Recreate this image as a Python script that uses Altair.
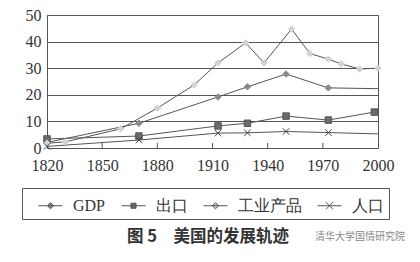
import altair as alt
import pandas as pd

series_names = ["GDP", "出口", "工业产品", "人口"]

gdp_years = [1820, 1870, 1913, 1929, 1950, 1973, 2000]
gdp_vals = [2.1, 9.3, 19.2, 23.0, 27.8, 22.6, 22.3]
gdp_mark = [True, True, True, True, True, True, False]

exp_years = [1820, 1870, 1913, 1929, 1950, 1973, 1998]
exp_vals = [3.4, 4.5, 8.3, 9.3, 12.0, 10.5, 13.5]
exp_mark = [True, True, True, True, True, True, True]

ind_years = [1820, 1830, 1860, 1880, 1900, 1913, 1928, 1938, 1953, 1963, 1973, 1980, 1990, 2000]
ind_vals = [1.8, 2.3, 7.2, 15.0, 23.7, 32.0, 39.5, 32.0, 44.7, 35.5, 33.4, 31.6, 29.7, 30.0]
ind_mark = [True] * 14

pop_years = [1820, 1870, 1913, 1929, 1950, 1973, 2000]
pop_vals = [0.6, 3.0, 5.6, 5.7, 6.2, 5.8, 5.3]
pop_mark = [True, True, True, True, True, True, False]

x_ticks = [1820, 1850, 1880, 1910, 1940, 1970, 2000]
inner_ticks = [1850, 1880, 1910, 1940, 1970]
y_ticks = [0, 10, 20, 30, 40, 50]

caption = "图 5\u3000美国的发展轨迹"
watermark = "清华大学国情研究院"

rows = []
for name, ys_, vs, ms in [
    ("GDP", gdp_years, gdp_vals, gdp_mark),
    ("出口", exp_years, exp_vals, exp_mark),
    ("工业产品", ind_years, ind_vals, ind_mark),
    ("人口", pop_years, pop_vals, pop_mark),
]:
    for y, v, m in zip(ys_, vs, ms):
        rows.append({"year": y, "value": v, "series": name, "marker": m})
df = pd.DataFrame(rows)

W, H = 331, 133

xs = alt.X("year:Q", scale=alt.Scale(domain=[1820, 2000], nice=False, zero=False),
           axis=alt.Axis(values=x_ticks, tickCount=20, format="d", title=None, ticks=False,
                         grid=False, domain=False, labelFont="Liberation Serif",
                         labelFontSize=16, labelColor="#333", labelPadding=9,
                         labelFlush=False, labelOverlap=False))
ys = alt.Y("value:Q", scale=alt.Scale(domain=[0, 50], nice=False),
           axis=alt.Axis(values=y_ticks, tickCount=20, title=None, ticks=False, domain=False,
                         grid=True, gridColor="#555", gridWidth=1,
                         labelFont="Liberation Serif", labelFontSize=16,
                         labelColor="#333", labelPadding=6, labelFlush=False,
                         labelOverlap=False))

lines = alt.Chart(df).mark_line(color="#555", strokeWidth=1).encode(
    x=xs, y=ys, detail="series:N"
)

xpath = "M-1,-1L1,1M-1,1L1,-1"
points = alt.Chart(df).transform_filter("datum.marker").mark_point(
    filled=True, size=42, strokeWidth=1, opacity=1
).encode(
    x=xs, y=ys,
    shape=alt.Shape("series:N", scale=alt.Scale(domain=series_names,
                    range=["diamond", "square", "diamond", xpath]), legend=None),
    fill=alt.Fill("series:N", scale=alt.Scale(domain=series_names,
                  range=["#8a8a8a", "#6c6c6c", "#d2d2d2", "transparent"]), legend=None),
    stroke=alt.Stroke("series:N", scale=alt.Scale(domain=series_names,
                      range=["#8a8a8a", "#555555", "#d2d2d2", "#444444"]), legend=None),
)

leg_paths = [
    "M-1,0L1,0M0,-0.26L0.26,0L0,0.26L-0.26,0Z",
    "M-1,0L1,0M-0.21,-0.21L0.21,-0.21L0.21,0.21L-0.21,0.21Z",
    "M-1,0L1,0M0,-0.26L0.26,0L0,0.26L-0.26,0Z",
    "M-1,0L1,0M-0.3,-0.3L0.3,0.3M-0.3,0.3L0.3,-0.3",
]
leg = alt.Legend(
    title=None, orient="none", legendX=-25, legendY=173,
    direction="horizontal", columns=4,
    strokeColor="#555", padding=5, columnPadding=4,
    labelFont="Liberation Serif", labelFontSize=16, labelColor="#333",
    labelExpr="datum.label == '人口' ? '人口\u2003' : datum.label",
    symbolOffset=11, labelOffset=10, symbolSize=576, symbolStrokeWidth=1,
    symbolOpacity=1, cornerRadius=0)
legend_layer = alt.Chart(df).transform_filter("false").mark_point(
    filled=True, strokeWidth=1, opacity=1
).encode(
    x=xs, y=ys,
    shape=alt.Shape("series:N", scale=alt.Scale(domain=series_names, range=leg_paths),
                    legend=leg),
    fill=alt.Fill("series:N", scale=alt.Scale(domain=series_names,
                  range=["#8a8a8a", "#6c6c6c", "#d2d2d2", "#555"]), legend=leg),
    stroke=alt.Stroke("series:N", scale=alt.Scale(domain=series_names,
                      range=["#555", "#555", "#555", "#555"]), legend=leg),
)

ticks = alt.Chart(pd.DataFrame({"year": inner_ticks})).mark_rule(
    color="#555", strokeWidth=1
).encode(x=alt.X("year:Q"), y=alt.value(H), y2=alt.value(H - 5))

cap = alt.Chart(pd.DataFrame({"t": [caption]})).mark_text(
    font="Noto Sans CJK SC", fontWeight="bold", fontSize=16.5, color="#333",
    baseline="middle", align="center"
).encode(x=alt.value(161), y=alt.value(222), text="t:N")

wm = alt.Chart(pd.DataFrame({"t": [watermark]})).mark_text(
    font="Noto Sans CJK SC", fontSize=10, color="#8a8a8a",
    baseline="middle", align="center"
).encode(x=alt.value(313), y=alt.value(222), text="t:N")

chart = alt.layer(lines, ticks, points, legend_layer, cap, wm).resolve_scale(
    shape="independent", fill="independent", stroke="independent"
).properties(
    width=W, height=H,
    autosize=alt.AutoSizeParams(type="none"),
    padding={"left": 47, "top": 15, "right": 42, "bottom": 114},
    background="white",
).configure_view(stroke="#555", strokeWidth=1)

chart.save("out.html", embed_options={"renderer": "svg", "actions": False})
